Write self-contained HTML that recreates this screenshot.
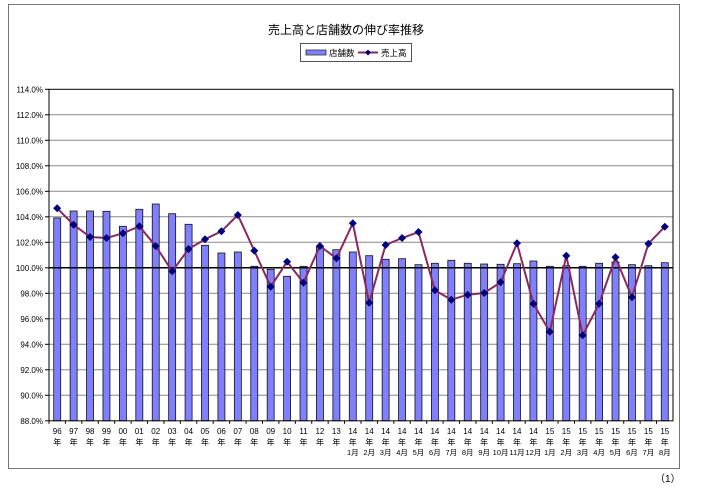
<!DOCTYPE html>
<html><head><meta charset="utf-8"><style>
body{margin:0;background:#fff;width:704px;height:493px;overflow:hidden}
svg{display:block;font-family:"Liberation Sans","Noto Sans CJK JP",sans-serif}
</style></head><body>
<svg id="s" width="704" height="493" xmlns="http://www.w3.org/2000/svg">
<rect x="8.5" y="4.5" width="671" height="464" fill="#fff" stroke="#777" stroke-width="1"/>
<text x="346" y="34" font-size="12" text-anchor="middle" fill="#000">売上高と店舗数の伸び率推移</text>
<rect x="300.5" y="43.5" width="111" height="18" fill="#fff" stroke="#555"/>
<rect x="306" y="50" width="20" height="5" fill="#8080ff" stroke="#333" stroke-width="0.8"/>
<text x="329" y="56" font-size="8.5">店舗数</text>
<line x1="358" y1="52.5" x2="378" y2="52.5" stroke="#8b2860" stroke-width="2"/>
<path d="M368 49.5 L371 52.5 L368 55.5 L365 52.5Z" fill="#000080"/>
<text x="381" y="56" font-size="8.5">売上高</text>
<text x="655" y="482" font-size="10">（1）</text>
<g id="g"></g>
</svg>
<script>
(function(){
var g=document.getElementById('g'),h='';
var T=89.3,sp=25.5,L=49,R=673,bot=T+13*sp;
for(var i=0;i<=13;i++){var y=T+i*sp,v=114-2*i;
 if(v!=100&&i<13&&i>0)h+='<line x1="'+L+'" x2="'+R+'" y1="'+y+'" y2="'+y+'" stroke="#888" stroke-width="1"/>';
 h+='<line x1="'+(L-4)+'" x2="'+L+'" y1="'+y+'" y2="'+y+'" stroke="#000"/>';
 h+='<text x="43" y="'+(y+3)+'" font-size="8" text-anchor="end">'+v.toFixed(1)+'%</text>';}
var bars=[218,211,211,211.3,226.3,209.3,204,213.7,224.3,245.3,253,252,266.3,269.3,276.3,266.3,246.7,249.7,252,255.7,259.3,258.7,264.7,263.3,260.3,263.3,264,264.3,263.7,261,266.3,265.7,266.3,263.3,262,264.7,265.7,262.7];
var line=[208.3,224.7,237,238,233.3,226.3,246,271.3,249,239.3,231.3,215,250.7,286.7,261.7,282.7,246,258.3,223.3,302.7,245,238,232,290.3,299.7,294.7,293,282.3,243.3,303.7,331.7,255.7,335.3,303.7,257.3,297.3,243.7,226.7];
var lab=['96','97','98','99','00','01','02','03','04','05','06','07','08','09','10','11','12','13'];
for(var m=1;m<=12;m++)lab.push('14|'+m+'月');for(var m=1;m<=8;m++)lab.push('15|'+m+'月');
var w=(R-L)/38,pts=[];
for(var i=0;i<38;i++){var cx=L+w*(i+0.5);
 h+='<rect x="'+(cx+0.5)+'" y="'+bars[i]+'" width="2" height="'+(bot-bars[i])+'" fill="#aaa"/>';
 h+='<rect x="'+(cx-3.5)+'" y="'+bars[i]+'" width="7" height="'+(bot-bars[i])+'" fill="#8080ff" stroke="#111" stroke-width="0.8"/>';
 h+='<line x1="'+(L+w*i)+'" x2="'+(L+w*i)+'" y1="'+bot+'" y2="'+(bot+3)+'" stroke="#000"/>';
 var p=lab[i].split('|');
 h+='<text x="'+cx+'" y="'+(bot+13)+'" font-size="8" text-anchor="middle">'+p[0]+'</text>';
 h+='<text x="'+cx+'" y="'+(bot+24)+'" font-size="8" text-anchor="middle">年</text>';
 if(p[1])h+='<text x="'+cx+'" y="'+(bot+34)+'" font-size="7.5" text-anchor="middle">'+p[1]+'</text>';
 pts.push(cx.toFixed(1)+','+line[i]);}
h+='<rect x="'+L+'" y="'+T+'" width="'+(R-L)+'" height="'+(13*sp)+'" fill="none" stroke="#000"/>';
var y100=T+7*sp;
h+='<line x1="'+L+'" x2="'+R+'" y1="'+y100+'" y2="'+y100+'" stroke="#000" stroke-width="1.5"/>';
h+='<polyline points="'+pts.join(' ')+'" fill="none" stroke="#8b2860" stroke-width="2"/>';
pts.forEach(function(q){var a=q.split(','),x=+a[0],y=+a[1];
 h+='<path d="M'+x+' '+(y-4)+'L'+(x+4)+' '+y+'L'+x+' '+(y+4)+'L'+(x-4)+' '+y+'Z" fill="#000080"/>';});
g.innerHTML=h;
})();
</script>
</body></html>
